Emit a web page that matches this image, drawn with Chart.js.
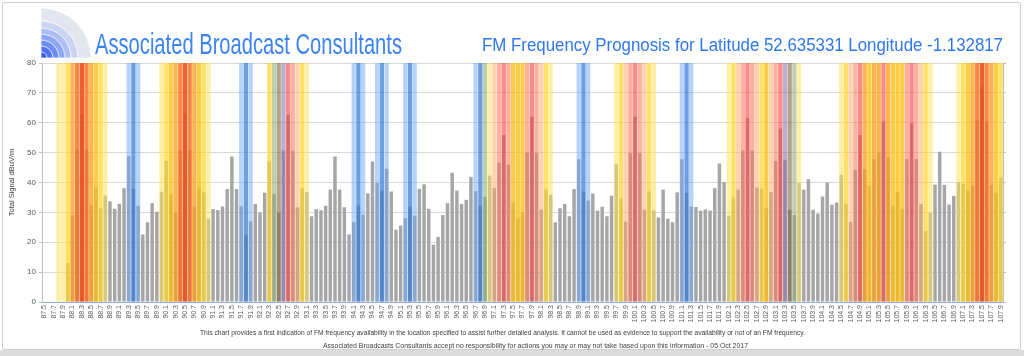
<!DOCTYPE html>
<html><head><meta charset="utf-8">
<script src="https://cdn.jsdelivr.net/npm/chart.js@4"></script>
<style>
html,body{margin:0;padding:0;background:#fff;width:1024px;height:356px;overflow:hidden;}
#frame{position:absolute;left:2px;top:2px;width:1017px;height:346px;border:1px solid #d0d0d0;border-radius:2px;}
#shade{position:absolute;left:0;top:350px;width:1024px;height:6px;background:#dcdcdc;}
#wrap{position:absolute;left:0;top:0;width:1024px;height:356px;}
#logo{position:absolute;left:0;top:0;}
.t{position:absolute;white-space:nowrap;transform-origin:0 0;line-height:1;}
#brand{font-family:"Liberation Sans Narrow","Liberation Sans",Arial,sans-serif;font-size:30px;color:#3d84f2;}
#title{font-family:"Liberation Sans",Arial,sans-serif;font-size:18px;color:#2f78e8;}
.foot{font-family:"Liberation Sans Narrow","Liberation Sans",Arial,sans-serif;font-size:8px;color:#404040;}
</style></head>
<body>
<div id="frame"></div>
<div id="shade"></div>
<svg id="logo" width="100" height="62" viewBox="0 0 100 62"></svg>
<div id="wrap"><canvas id="c" width="1024" height="356"></canvas></div>
<div class="t" id="brand">Associated Broadcast Consultants</div>
<div class="t" id="title">FM Frequency Prognosis for Latitude 52.635331 Longitude -1.132817</div>
<div class="t foot" id="f1">This chart provides  a first indication of FM frequency availability in the location specified to assist further detailed analysis.  It cannot be used as evidence to support  the availability or not  of an FM frequency.</div>
<div class="t foot" id="f2">Associated Broadcasts Consultants accept no responsibility for actions you may or may not take based upon this information - 05 Oct 2017</div>
<script>
// ---- categories (MHz) ----
const freqs = [
"87.5","87.6","87.7","87.8","87.9",
"88.0","88.1","88.2","88.3","88.4","88.5","88.6","88.7","88.8","88.9",
"89.0","89.1","89.2","89.3","89.4","89.5","89.6","89.7","89.8","89.9",
"90.0","90.1","90.2","90.3","90.4","90.5","90.6","90.7","90.8","90.9",
"91.0","91.1","91.2","91.3","91.4","91.5","91.6","91.7","91.8","91.9",
"92.0","92.1","92.2","92.3","92.4","92.5","92.6","92.7","92.8","92.9",
"93.0","93.1","93.2","93.3","93.4","93.5","93.6","93.7","93.8","93.9",
"94.0","94.1","94.2","94.3","94.4","94.5","94.6","94.7","94.8","94.9",
"95.0","95.1","95.2","95.3","95.4","95.5","95.6","95.7","95.8","95.9",
"96.0","96.1","96.2","96.3","96.4","96.5","96.6","96.7","96.8","96.9",
"97.0","97.1","97.2","97.3","97.4","97.5","97.6","97.7","97.8","97.9",
"98.0","98.1","98.2","98.3","98.4","98.5","98.6","98.7","98.8","98.9",
"99.0","99.1","99.2","99.3","99.4","99.5","99.6","99.7","99.8","99.9",
"100.0","100.1","100.2","100.3","100.4","100.5","100.6","100.7","100.8","100.9",
"101.0","101.1","101.2","101.3","101.4","101.5","101.6","101.7","101.8","101.9",
"102.0","102.1","102.2","102.3","102.4","102.5","102.6","102.7","102.8","102.9",
"103.0","103.1","103.2","103.3","103.4","103.5","103.6","103.7","103.8","103.9",
"104.0","104.1","104.2","104.3","104.4","104.5","104.6","104.7","104.8","104.9",
"105.0","105.1","105.2","105.3","105.4","105.5","105.6","105.7","105.8","105.9",
"106.0","106.1","106.2","106.3","106.4","106.5","106.6","106.7","106.8","106.9",
"107.0","107.1","107.2","107.3","107.4","107.5","107.6","107.7","107.8","107.9"
];
// ---- total signal dBuV/m ----
const signal = [
0,0,0,0,0,
13,29,51,63,51,32.5,38.3,31.4,35.6,33.7,
31.2,32.9,38.1,48.9,37.9,32.2,22.6,26.7,33.1,30.2,
36.9,47.2,35.9,29.9,50.9,63,50.9,32,38.3,36.7,
27.9,31.1,30.8,32,37.8,48.7,37.8,32,22.6,27,
32.8,30,36.6,47,36.1,29.9,50.7,62.6,50.6,31.7,
38.1,36.8,28.7,31.1,30.7,32.2,37.6,48.7,37.6,31.7,
22.6,26.7,32.3,29.2,36.4,47,39.8,37.3,44.6,37,
24.2,25.6,28.1,32,28.9,37.9,39.4,31.2,19.2,21.8,
29.1,33.1,43.3,37.3,32.8,34.2,41.9,37.1,32.3,35.2,
42.3,38.2,46.6,55.9,45.9,33.3,27.9,30,50,62,
49.8,30.9,37.6,35.9,26.7,31.4,32.8,28.7,37.8,47.8,
37,33.9,36.3,30.6,31.9,28.7,35.6,46.1,34.6,26.9,
49.8,62,49.8,30.9,37,30.7,28.3,37.6,27.9,26.7,
36.7,47.8,36.5,32,31.8,30.6,31,30.6,38.1,46.4,
40.1,28.9,35,37.6,50.7,61.6,50.7,38.3,37.9,31.6,
36.8,47.2,58.1,47.6,30.9,29.1,39.8,37.6,41.1,30.9,
29.6,35.3,40,32.6,33.3,42.6,32.9,26.8,44.2,55.9,
44.4,38.8,47.9,50.1,60.4,48.5,32.2,36.8,31.1,47.9,
59.8,47.9,32.8,23.8,29.8,39.3,50.3,39.2,32.6,35.5,
40.2,39.6,37.2,38.9,60.8,72.1,60.4,39.2,36.6,41.6
];
// ---- availability band class per frequency ----
const bands = [
"","","","ly","ly",
"y","o","or","r","or","o","g","y","ly","",
"","","","lb","b","lb","","","","",
"ly","y","g","o","or","r","or","o","g","y",
"ly","","","","","","","lb","b","lb",
"","","","y","gg","br","pu","p","po","lo",
"y","ly","","","","","","","","",
"","lb","b","lb","","","lb","b","lb","",
"","","lb","b","lb","","","","","",
"","","","","","","","lb","b","gg",
"ly","lo","po","p","po","g","g","g","po","p",
"po","lo","y","ly","","","","","","lb",
"b","lb","","","","","","ly","y","lo",
"po","p","po","lo","y","ly","","","","",
"","lb","b","lb","","","","","","",
"","ly","y","lo","po","p","po","lo","y","g",
"lo","po","p","pu","br","gg","ly","","","",
"","","","","","ly","y","lo","po","p",
"o","g","o","o","p","o","g","g","g","po",
"p","po","lo","y","ly","","","","","",
"ly","y","g","o","or","r","or","o","g","y"
];
const yTicks = [0,10,20,30,40,50,60,70,80];
const bandTop = 80;

const bandColor = {
  ly:'rgba(255,225,90,0.55)', y:'rgba(255,215,40,0.72)', g:'rgba(255,190,20,0.78)',
  o:'rgba(255,160,30,0.78)', or:'rgba(252,110,30,0.82)', r:'rgba(240,80,25,0.9)',
  lo:'rgba(255,165,100,0.5)', po:'rgba(255,120,90,0.58)', p:'rgba(250,70,70,0.62)',
  lb:'rgba(110,170,245,0.5)', b:'rgba(50,120,215,0.72)', gg:'rgba(140,175,120,0.58)',
  br:'rgba(130,100,70,0.6)', pu:'rgba(140,120,165,0.6)'
};

// logo
(function(){
  const svg=document.getElementById('logo');
  const cx=41, cy=58;
  const rings=[[50,'#e3e6ee'],[37,'#cbd4f2'],[30,'#adbef6'],[24,'#8ea6f6'],[18,'#6f8ef4'],[12,'#5173f1'],[6,'#3457ee']];
  let s='';
  rings.forEach(([r,c])=>{
    s+=`<path d="M${cx},${cy} L${cx},${cy-r} A${r},${r} 0 0 1 ${cx+r},${cy} Z" fill="${c}" stroke="#fff" stroke-width="0.8"/>`;
  });
  svg.innerHTML=s;
})();

function place(id,left,top,width){
  const el=document.getElementById(id);
  el.style.left=left+'px'; el.style.top=top+'px';
  const w=el.getBoundingClientRect().width;
  el.style.transform='scaleX('+(width/w)+')';
}
place('brand',95,29,307);
place('title',482,36,521);
place('f1',200,329,605);
place('f2',323,342,425);

const F='"Liberation Sans", Arial, sans-serif';
new Chart(document.getElementById('c'),{
  type:'bar',
  data:{
    labels:freqs,
    datasets:[
      {label:'band', data:bands.map(b=>b?bandTop:null),
       backgroundColor:bands.map(b=>bandColor[b]||'rgba(0,0,0,0)'),
       barPercentage:0.92, categoryPercentage:1, grouped:false, order:0},
      {label:'signal', data:signal, backgroundColor:'#a6a6a6',
       barPercentage:0.74, categoryPercentage:1, grouped:false, order:1}
    ]
  },
  options:{
    responsive:false, animation:false, events:[],
    layout:{padding:{left:0,top:63,right:17,bottom:32}},
    plugins:{legend:{display:false},tooltip:{enabled:false}},
    scales:{
      x:{
        ticks:{autoSkip:false,maxRotation:90,minRotation:90,padding:3,color:'#595959',
               font:{family:F,size:7},
               callback:(v,i)=>i%2===0?freqs[i]:''},
        grid:{display:false,drawTicks:false},
        border:{color:'#8faadc'},
        afterFit:s=>{s.height=22;}
      },
      y:{
        min:0,max:80,
        afterBuildTicks:s=>{s.ticks=yTicks.map(v=>({value:v}));},
        ticks:{color:'#595959',font:{family:F,size:8},padding:3},
        grid:{color:'#d9d9d9',tickLength:3,tickColor:'#bfbfbf'},
        border:{color:'#bfbfbf'},
        title:{display:true,text:'Total Signal dBuV/m',color:'#404040',font:{family:F,size:7.5},padding:{top:7,bottom:0}},
        afterFit:s=>{s.width=42;}
      },
      y2:{
        position:'right',min:0,max:80,
        afterBuildTicks:s=>{s.ticks=yTicks.map(v=>({value:v}));},
        ticks:{display:false},
        grid:{drawOnChartArea:false,tickLength:3,color:'#bfbfbf'},
        border:{color:'#bfbfbf'},
        afterFit:s=>{s.width=4;}
      }
    }
  }
});
</script>
</body></html>
